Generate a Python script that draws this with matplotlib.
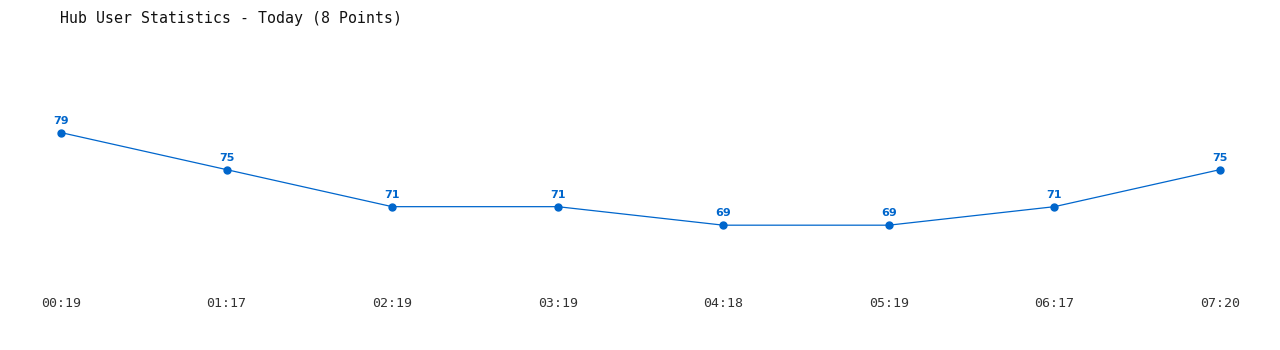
import matplotlib
matplotlib.use("Agg")
import matplotlib.pyplot as plt

# data
times = ["00:19", "01:17", "02:19", "03:19", "04:18", "05:19", "06:17", "07:20"]
users = [79, 75, 71, 71, 69, 69, 71, 75]

blue = "#0066cc"

fig = plt.figure(figsize=(12.8, 3.5), dpi=100)
ax = fig.add_axes([61 / 1280, 60 / 350, (1220 - 61) / 1280, 250 / 350])

x = list(range(len(times)))
ax.plot(x, users, color=blue, linewidth=0.9, marker="o", markersize=5, clip_on=False)

for xi, v in zip(x, users):
    ax.annotate(str(v), (xi, v), xytext=(0, 5), textcoords="offset points",
                ha="center", va="bottom", color=blue, fontsize=8,
                fontweight="bold", family="DejaVu Sans")

ax.set_xlim(0, len(times) - 1)
ax.set_ylim(62, 89)
ax.set_xticks(x)
ax.set_xticklabels(times, family="DejaVu Sans Mono", fontsize=9.5, color="#333333")
ax.set_yticks([])
ax.tick_params(axis="x", length=0, pad=5)
for s in ax.spines.values():
    s.set_visible(False)

fig.text(60 / 1280, 1 - 18 / 350, "Hub User Statistics - Today (8 Points)",
         family="DejaVu Sans Mono", fontsize=10.7, color="#111111",
         ha="left", va="center")

fig.savefig("out.png", dpi=100)
plt.close(fig)
